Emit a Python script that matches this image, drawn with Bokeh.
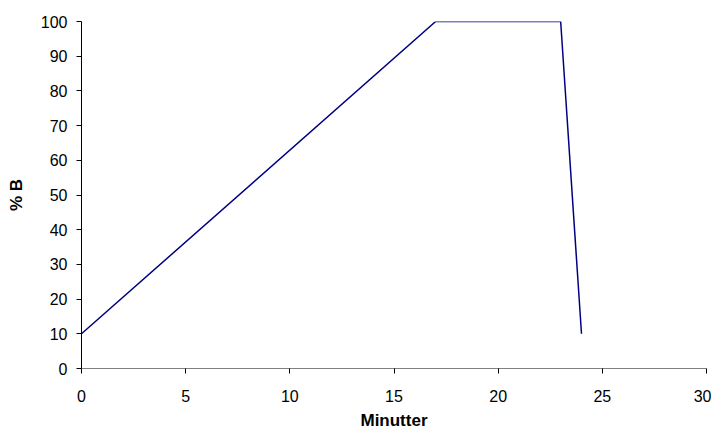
from bokeh.plotting import figure
from bokeh.models import Range1d, FixedTicker
from bokeh.embed import file_html
from bokeh.resources import INLINE

minutes = [0, 17, 23, 24]
pct_b = [10, 100, 100, 10]
x_ticks = [0, 5, 10, 15, 20, 25, 30]
y_ticks = [0, 10, 20, 30, 40, 50, 60, 70, 80, 90, 100]

p = figure(width=711, height=432, output_backend="svg", toolbar_location=None,
           x_range=Range1d(0, 30), y_range=Range1d(0, 100),
           min_border_left=81, min_border_right=5, min_border_top=21, min_border_bottom=63)
p.outline_line_color = None
p.xgrid.visible = False
p.ygrid.visible = False

p.line(minutes, pct_b, line_color="#000080", line_width=1.5)

for ax in (p.xaxis[0], p.yaxis[0]):
    ax.major_label_text_font = "Liberation Sans"
    ax.major_label_text_font_size = "16px"
    ax.major_label_text_color = "black"
    ax.axis_label_text_font = "Liberation Sans"
    ax.axis_label_text_font_size = "17px"
    ax.axis_label_text_font_style = "bold"
    ax.axis_label_text_color = "black"
    ax.minor_tick_line_color = None
    ax.major_tick_in = 0
    ax.major_tick_out = 5
    ax.major_tick_line_color = "black"

p.xaxis[0].ticker = FixedTicker(ticks=x_ticks)
p.yaxis[0].ticker = FixedTicker(ticks=y_ticks)
p.xaxis[0].axis_label = "Minutter"
p.yaxis[0].axis_label = "% B"
p.xaxis[0].axis_line_color = "#808080"
p.yaxis[0].axis_line_color = "black"
p.xaxis[0].major_label_standoff = 16
p.yaxis[0].major_label_standoff = 9
p.xaxis[0].axis_label_standoff = 6
p.yaxis[0].axis_label_standoff = 12

open("out.html", "w").write(file_html(p, INLINE))
